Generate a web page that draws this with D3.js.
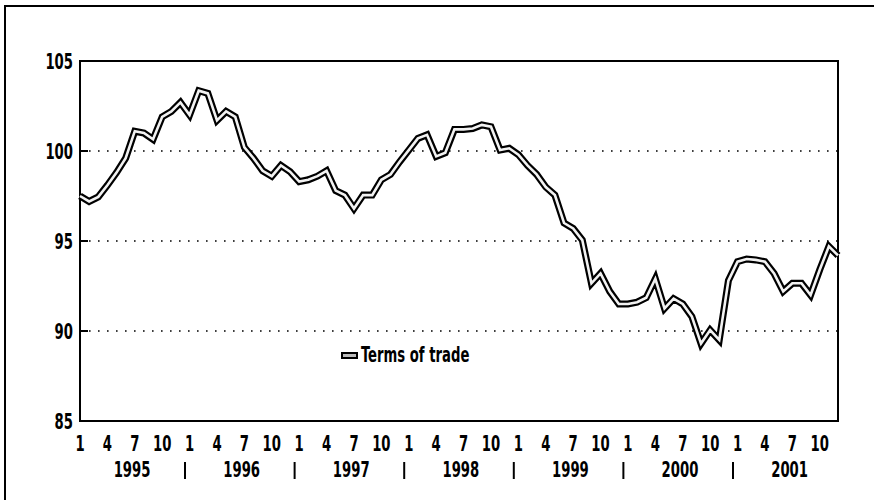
<!DOCTYPE html>
<html lang="en">
  <head>
    <meta charset="utf-8">
    <title>Terms of trade</title>
    <script type="text/javascript" src="https://d3js.org/d3.v7.min.js"></script>
    <style>
      body {
        margin: 0;
        background-color: white;
      }
      .svg {
        background-color: white;
      }
      .label {
        font-family: "DejaVu Sans Condensed", "DejaVu Sans", sans-serif;
        font-weight: bold;
        font-size: 21px;
        fill: black;
      }
      .grid {
        stroke: black;
        stroke-width: 1.6;
        stroke-dasharray: 1.6,7.4;
      }
    </style>
  </head>
  <body>
    <script type="text/javascript">
      // monthly terms of trade index, Jan 1995 .. Dec 2001
      var years = ['1995', '1996', '1997', '1998', '1999', '2000', '2001'];
      var monthTicks = ['1', '4', '7', '10'];
      var yTicks = [85, 90, 95, 100, 105];
      var gridValues = [90, 95, 100];
      var seriesName = 'Terms of trade';
      var termsOfTrade = [
        97.5, 97.2, 97.45, 98.1, 98.8, 99.6, 101.1, 101.0, 100.65, 101.9, 102.2, 102.7,
        102.0, 103.35, 103.2, 101.7, 102.2, 101.9, 100.2, 99.6, 98.9, 98.6, 99.2, 98.85,
        98.3, 98.4, 98.6, 98.9, 97.8, 97.55, 96.8, 97.55, 97.55, 98.4, 98.7, 99.4,
        100.05, 100.7, 100.9, 99.7, 99.9, 101.2, 101.2, 101.25, 101.45, 101.35, 100.05, 100.15,
        99.8, 99.2, 98.7, 98.0, 97.55, 96.0, 95.7, 95.05, 92.65, 93.2, 92.2, 91.5,
        91.5, 91.6, 91.85, 92.9, 91.25, 91.8, 91.5, 90.8, 89.3, 90.05, 89.5, 92.8,
        93.85, 94.0, 93.95, 93.85, 93.2, 92.2, 92.65, 92.65, 92.0, 93.4, 94.7, 94.2
      ];

      var width = 874;
      var height = 500;
      var plotLeft = 80, plotRight = 838, plotTop = 61, plotBottom = 421;
      var squeeze = 0.7; // narrow the font to look like the condensed original

      var svg = d3.select('body').append('svg')
            .attr('class', 'svg')
            .attr('width', width)
            .attr('height', height);

      var x = d3.scaleLinear()
            .domain([0, termsOfTrade.length - 1])
            .range([plotLeft, plotRight]);
      var y = d3.scaleLinear()
            .domain([85, 105])
            .range([plotBottom, plotTop]);

      function place(px, py){
        return 'translate(' + px + ',' + py + ') scale(' + squeeze + ',1)';
      }

      // outer frame (only left and top edges show)
      svg.append('path')
        .attr('d', 'M5,' + height + 'V6H' + width)
        .attr('fill', 'none')
        .attr('stroke', 'black')
        .attr('stroke-width', 2);

      // dotted grid
      svg.selectAll('.grid')
        .data(gridValues)
        .enter()
        .append('line')
        .attr('class', 'grid')
        .attr('x1', plotLeft + 9)
        .attr('x2', plotRight)
        .attr('y1', function(d){ return y(d); })
        .attr('y2', function(d){ return y(d); });

      svg.selectAll('.ytick')
        .data(gridValues)
        .enter()
        .append('line')
        .attr('class', 'ytick')
        .attr('x1', plotLeft)
        .attr('x2', plotLeft + 8)
        .attr('y1', function(d){ return y(d); })
        .attr('y2', function(d){ return y(d); })
        .attr('stroke', 'black')
        .attr('stroke-width', 2);

      // plot frame
      svg.append('rect')
        .attr('x', plotLeft)
        .attr('y', plotTop)
        .attr('width', plotRight - plotLeft)
        .attr('height', plotBottom - plotTop)
        .attr('fill', 'none')
        .attr('stroke', 'black')
        .attr('stroke-width', 2);

      // y labels
      svg.selectAll('.ylabel')
        .data(yTicks)
        .enter()
        .append('text')
        .attr('class', 'label ylabel')
        .attr('transform', function(d){ return place(plotLeft - 7, y(d) + 8); })
        .attr('text-anchor', 'end')
        .text(function(d){ return d; });

      // month labels
      var monthLabels = [];
      years.forEach(function(yr, k){
        monthTicks.forEach(function(m){
          monthLabels.push({i: k * 12 + (+m) - 1, text: m});
        });
      });
      svg.selectAll('.mlabel')
        .data(monthLabels)
        .enter()
        .append('text')
        .attr('class', 'label mlabel')
        .attr('transform', function(d){ return place(x(d.i), 451); })
        .attr('text-anchor', 'middle')
        .text(function(d){ return d.text; });

      // year labels and separators
      svg.selectAll('.yrlabel')
        .data(years)
        .enter()
        .append('text')
        .attr('class', 'label yrlabel')
        .attr('transform', function(d, i){ return place(x(i * 12 + 5.7), 477); })
        .attr('text-anchor', 'middle')
        .text(function(d){ return d; });

      svg.selectAll('.sep')
        .data(years.slice(1))
        .enter()
        .append('line')
        .attr('class', 'sep')
        .attr('x1', function(d, i){ return x((i + 1) * 12 - 0.5); })
        .attr('x2', function(d, i){ return x((i + 1) * 12 - 0.5); })
        .attr('y1', 462)
        .attr('y2', 479)
        .attr('stroke', 'black')
        .attr('stroke-width', 2);

      // double line: thick black with light core
      var line = d3.line()
            .x(function(d, i){ return x(i); })
            .y(function(d){ return y(d); });

      svg.append('path')
        .datum(termsOfTrade)
        .attr('d', line)
        .attr('fill', 'none')
        .attr('stroke', 'black')
        .attr('stroke-width', 7)
        .attr('stroke-linejoin', 'miter');
      svg.append('path')
        .datum(termsOfTrade)
        .attr('d', line)
        .attr('fill', 'none')
        .attr('stroke', '#f2f2f2')
        .attr('stroke-width', 2.6)
        .attr('stroke-linejoin', 'miter');

      // legend
      var legend = svg.append('g').attr('transform', 'translate(342,353)');
      legend.append('rect')
        .attr('x', 0)
        .attr('y', 0)
        .attr('width', 15)
        .attr('height', 5)
        .attr('fill', '#bbb')
        .attr('stroke', 'black')
        .attr('stroke-width', 2);
      legend.append('text')
        .attr('class', 'label')
        .attr('transform', place(19, 9))
        .style('font-size', '21px')
        .text(seriesName);
    </script>
  </body>
</html>
